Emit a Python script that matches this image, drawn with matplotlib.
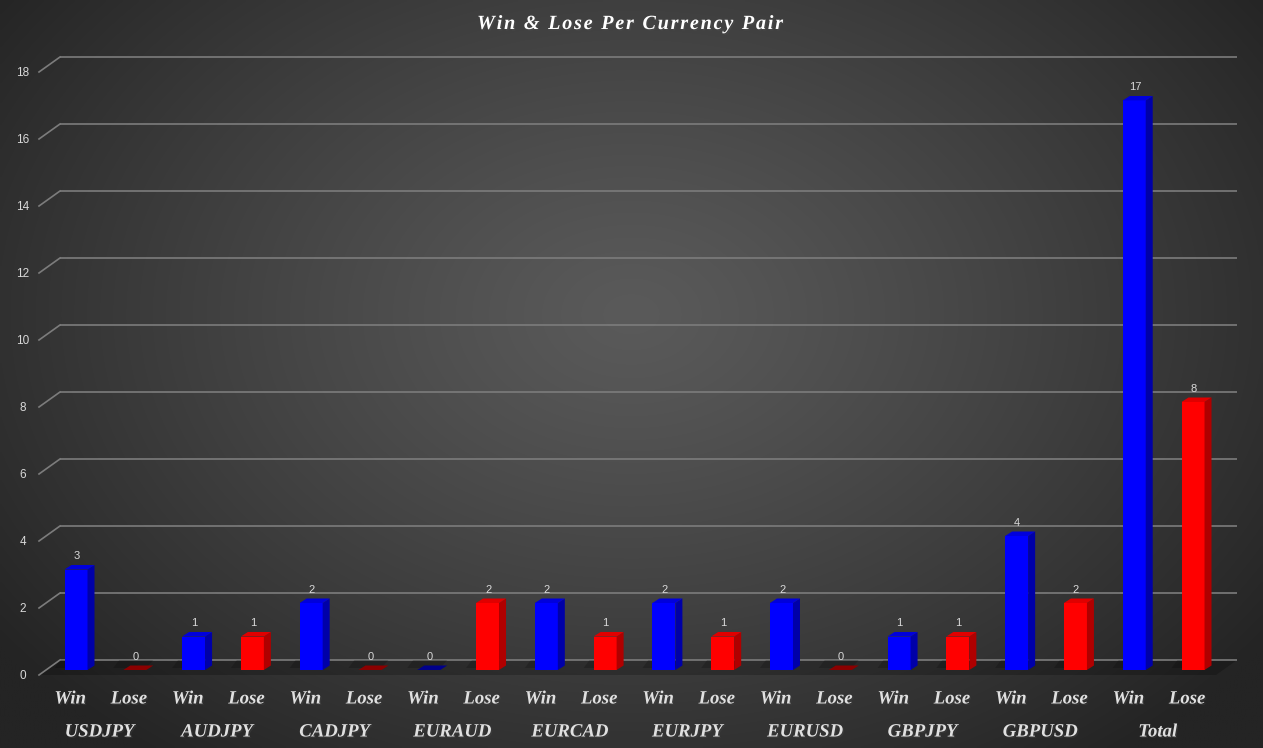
#!/usr/bin/env python3
"""Win & Lose per currency pair, drawn as an Excel-style 3D column chart."""

import numpy as np
import matplotlib

matplotlib.use("Agg")
import matplotlib.pyplot as plt
from matplotlib.patches import Polygon
import matplotlib.patheffects as pe
from matplotlib.font_manager import FontProperties, findfont, get_font

pairs = ["USDJPY", "AUDJPY", "CADJPY", "EURAUD", "EURCAD",
         "EURJPY", "EURUSD", "GBPJPY", "GBPUSD", "Total"]
win = [3, 1, 2, 0, 2, 2, 2, 1, 4, 17]
lose = [0, 1, 0, 2, 1, 1, 0, 1, 2, 8]
series = ["Win", "Lose"]
yticks = [0, 2, 4, 6, 8, 10, 12, 14, 16, 18]
title = "Win & Lose Per Currency Pair"

W, H = 1263, 748
fig = plt.figure(figsize=(W / 100, H / 100), dpi=100)

# background radial gradient
bg = fig.add_axes([0, 0, 1, 1])
gx, gy = np.meshgrid(np.linspace(0, 1, 400), np.linspace(0, 1, 240))
d = np.sqrt(((gx - 0.5) / 0.62) ** 2 + ((gy - 0.42) / 0.75) ** 2)
d = np.clip(d, 0, 1)
shade = (0x5a - (0x5a - 0x24) * d ** 1.2) / 255.0
bg.imshow(np.dstack([shade, shade, shade]), extent=[0, 1, 0, 1],
          aspect="auto", interpolation="bilinear")
bg.axis("off")

# data axes covering the figure: bar index on x, value on y
ax = fig.add_axes([0, 0, 1, 1])
ax.patch.set_alpha(0)
sx = 58.79   # px per category
sy = 33.5    # px per unit
x0, y0 = 76, 670
ax.set_xlim(-x0 / sx, (W - x0) / sx)
ax.set_ylim((y0 - H) / sy, y0 / sy)
ax.axis("off")

PX, PY = 1 / sx, 1 / sy
hw = 11.5 * PX
dx, dy = 7 * PX, 4.5 * PY

# back-plane geometry
back_l, back_r = (60 - x0) * PX, (1237 - x0) * PX
front_l, front_r = (39 - x0) * PX, (1216 - x0) * PX
back_dy = (y0 - 660) * PY
front_dy = (y0 - 675) * PY

# floor
ax.add_patch(Polygon([(front_l, front_dy), (front_r, front_dy),
                      (back_r, back_dy), (back_l, back_dy)],
                     closed=True, fc="black", alpha=0.22, lw=0, zorder=1))

for v in yticks:
    ax.plot([back_l, back_r], [v + back_dy, v + back_dy], color="#7c7c7c",
            lw=1.2, zorder=2, solid_capstyle="butt")
    ax.plot([front_l, back_l], [v + front_dy, v + back_dy], color="#7c7c7c",
            lw=1.2, zorder=2)
    ax.text(-0.90, v - 0.17, str(v), color="#d9d9d9", fontsize=8.5,
            family="Liberation Sans", ha="center", va="center", zorder=5)

colors = {
    "Win": ("#0000ff", "#0000a8", "#0000dc", "#00008b"),
    "Lose": ("#ff0000", "#b00000", "#e00000", "#8b0000"),
}

label_fx = [pe.withSimplePatchShadow(offset=(1, -1), alpha=0.45)]

for k, name in enumerate(pairs):
    for j, (sname, vals) in enumerate(zip(series, (win, lose))):
        i = 2 * k + j
        v = vals[k]
        front, side, top, flat = colors[sname]
        # soft shadow on the floor
        ax.add_patch(Polygon([(i - hw - 10 * PX, back_dy * 0.2),
                              (i + hw, back_dy * 0.2),
                              (i + hw + dx, back_dy),
                              (i - hw - 4 * PX, back_dy)],
                             closed=True, fc="black", alpha=0.18, lw=0,
                             zorder=2.5))
        if v == 0:
            ax.add_patch(Polygon([(i - hw, 0), (i + hw, 0),
                                  (i + hw + dx, dy), (i - hw + dx, dy)],
                                 closed=True, fc=flat, lw=0, zorder=3))
        else:
            ax.add_patch(Polygon([(i - hw, 0), (i + hw, 0), (i + hw, v),
                                  (i - hw, v)], closed=True, fc=front,
                                 lw=0, zorder=3))
            ax.add_patch(Polygon([(i + hw, 0), (i + hw + dx, dy),
                                  (i + hw + dx, v + dy), (i + hw, v)],
                                 closed=True, fc=side, lw=0, zorder=3))
            ax.add_patch(Polygon([(i - hw, v), (i + hw, v),
                                  (i + hw + dx, v + dy), (i - hw + dx, v + dy)],
                                 closed=True, fc=top, lw=0, zorder=3))
        ax.text(i + 0.01, v + 0.40, str(v), color="#d9d9d9", fontsize=8,
                family="Liberation Sans", ha="center", va="center", zorder=5)
        ax.text(i - 0.10, (y0 - 699) * PY, sname, color="#e0e0e0",
                fontsize=13.5, family="Liberation Serif", fontweight="bold",
                style="italic", ha="center", va="center", zorder=5,
                path_effects=label_fx)
    ax.text(2 * k + 0.5 - 0.10, (y0 - 732) * PY, name, color="#e0e0e0",
            fontsize=13.5, family="Liberation Serif", fontweight="bold",
            style="italic", ha="center", va="center", zorder=5,
            path_effects=label_fx)

# title with expanded letter spacing, laid out one glyph at a time
tsize = 14.5
tprop = FontProperties(family="Liberation Serif", weight="bold",
                       style="italic", size=tsize)
font = get_font(findfont(tprop))
font.set_size(tsize, 100)
adv = [font.load_char(ord(c)).linearHoriAdvance / 65536 for c in title]
title_w = 306.0
gap = (title_w - sum(adv)) / (len(title) - 1)
xpos = 630 - title_w / 2
for c, a in zip(title, adv):
    fig.text(xpos / W, 1 - 24 / H, c, color="white", fontproperties=tprop,
             ha="left", va="center",
             path_effects=[pe.withSimplePatchShadow(offset=(1, -1), alpha=0.6)])
    xpos += a + gap

fig.savefig("out.png", dpi=100)
